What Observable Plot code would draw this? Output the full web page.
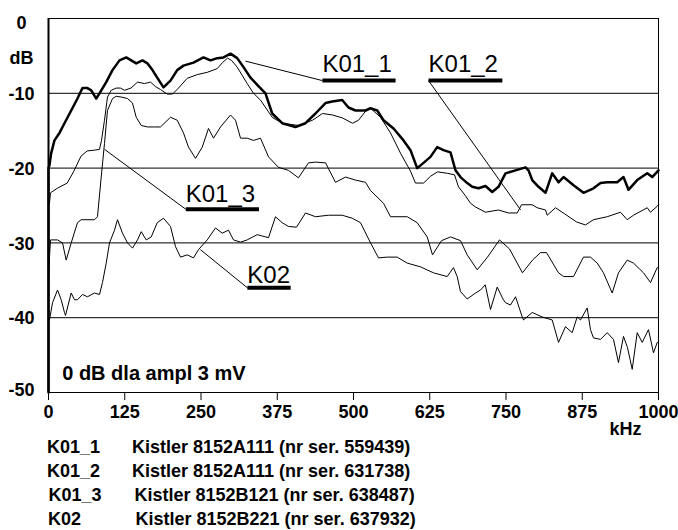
<!DOCTYPE html>
<html><head><meta charset="utf-8">
<script src="https://cdn.jsdelivr.net/npm/d3@7"></script>
<script src="https://cdn.jsdelivr.net/npm/@observablehq/plot@0.6"></script>
<style>
body{margin:0;background:#fff;}
#wrap{position:relative;width:678px;height:530px;overflow:hidden;font-family:"Liberation Sans",Arial,sans-serif;background:#fff;}
.leg{position:absolute;font-weight:bold;font-size:18px;line-height:24px;white-space:nowrap;color:#000;}
</style></head><body><div id="wrap"></div><script>
// ---- data (frequency in kHz, level in dB) ----
const K01_1 = [[0,-50],[0,-20],[1.6,-19.6],[4.4,-18.0],[9.8,-16.3],[18,-15.3],[26.2,-14],[37.2,-12.3],[47.5,-10.7],[55.7,-9.3],[63.9,-9.3],[70,-9.6],[78.2,-10.7],[83.6,-10],[94.6,-8.5],[104.9,-6.9],[116.4,-5.6],[127.4,-5.2],[135.6,-5.6],[143.8,-6],[154.1,-5.6],[162.3,-6],[170.5,-6.9],[178.2,-7.9],[188.5,-9.2],[200,-8.3],[211,-6.9],[221.3,-6.3],[237.7,-5.9],[254.1,-5.2],[265.6,-5.6],[276.6,-5.3],[286.9,-5.2],[298.4,-4.7],[309.3,-5.3],[319.7,-6.5],[331.1,-7.9],[342.6,-8.9],[355.7,-10],[366.7,-12.7],[383.1,-14],[404.9,-14.5],[421.3,-14],[437.7,-12.7],[454.1,-11.3],[465.1,-11.1],[481.5,-10.9],[491.8,-11.9],[503.3,-12.3],[519.7,-12.3],[527.9,-12],[538.9,-12.3],[549.2,-13.6],[565.6,-14.7],[582,-16.3],[593.4,-17.6],[604.4,-20],[614.8,-19.3],[626.2,-18.5],[637.2,-17.2],[647.5,-17.6],[659,-17.9],[667.2,-20.3],[675.4,-21.2],[686.4,-22],[694.6,-22.5],[704.9,-22.7],[716.4,-22.4],[727.4,-23.2],[737.7,-22.5],[749.2,-20.7],[765.6,-20.3],[782,-19.9],[786.9,-20.3],[793,-21.6],[803.3,-22.5],[814.8,-23.3],[825.7,-20.7],[836.1,-21.9],[844.3,-21.2],[850.3,-21.6],[860.7,-22.3],[877,-23.3],[893.4,-22.7],[904.9,-22],[915.9,-21.9],[932.3,-21.9],[942.6,-21.2],[950.8,-22.9],[965.1,-21.6],[981.5,-20.7],[989.7,-21.2],[1000,-20.3]];
const K01_2 = [[0,-25],[1.6,-24.7],[3.3,-23.3],[14.3,-22.7],[30.7,-22],[41,-20.5],[53.3,-18.4],[63.4,-17.7],[75.4,-17.6],[83.6,-17.5],[86.9,-16.3],[91.8,-13.6],[96.7,-10.5],[102.8,-9.6],[111,-9.3],[118,-9.3],[124.6,-9.6],[135.2,-9.3],[145.9,-8.5],[157.4,-8.7],[167.2,-8.5],[175.4,-9.1],[183.6,-9.5],[194.6,-10.1],[203.3,-10.1],[213.1,-9.3],[227.4,-8],[243.8,-7.5],[260.2,-7.2],[276.6,-6.7],[285.2,-5.9],[293.4,-5.3],[300,-5.6],[309.3,-6.5],[325.7,-8.7],[336.1,-10],[347.5,-10.9],[366.7,-13.2],[383.1,-14],[409.8,-14.3],[432.8,-13.6],[449.2,-12.7],[465.6,-12.9],[482,-13.3],[498.4,-14],[508.2,-13.6],[519.7,-12.4],[527.9,-12],[544.3,-13.2],[560.7,-15.3],[577,-18],[593.4,-20.4],[601.6,-22],[614.8,-22],[626.2,-21.1],[637.7,-20.5],[654.1,-20.7],[665.6,-20.9],[672.1,-22.5],[683.6,-23.7],[691.8,-24.7],[700,-25.2],[716.4,-25.9],[737.7,-25.6],[754.1,-26],[768.4,-26],[775.4,-24.9],[793,-24.9],[801.1,-25.3],[814.8,-25.6],[817.5,-26.3],[831.1,-25.3],[845.9,-26.1],[865.6,-27.2],[880.3,-27.6],[893.4,-26.9],[915.9,-26.5],[937.7,-25.9],[948.7,-26.9],[959,-26.3],[981.5,-25.3],[986.9,-25.9],[997.9,-25.1],[1000,-24.9]];
const K01_3 = [[0,-35],[1.6,-31.9],[3.3,-29.6],[14.8,-29.6],[23,-30],[29,-32.3],[37.2,-30],[47.5,-27.3],[53.6,-26.9],[75.4,-26.9],[80.3,-26.5],[86.4,-21.2],[91.8,-16.7],[96.7,-12.3],[104.9,-10.7],[111,-10.4],[119.2,-10.5],[129.5,-10.7],[137.7,-11.3],[143.8,-13.2],[152,-14.3],[162.3,-14.5],[173.8,-14.5],[183.6,-14.5],[200,-13.2],[211,-13.6],[221.3,-15.3],[229.5,-17.2],[241,-18.7],[252,-17.2],[262.3,-14.7],[270.5,-16],[282,-14.5],[298.4,-12.9],[306.6,-13.6],[314.8,-16],[325.7,-16],[336.1,-16.3],[347.5,-16],[360.7,-18.5],[377,-19.9],[393.4,-20.3],[409.8,-21.3],[426.2,-19.3],[437.7,-19.2],[454.1,-19.3],[470.5,-21.9],[486.9,-21.2],[503.3,-21.6],[519.7,-21.9],[527.9,-23],[549.2,-24.7],[560.7,-26.5],[588,-26.5],[604.4,-27.3],[620.8,-29.2],[629.5,-31.6],[644.3,-29.7],[659,-29.2],[675.4,-29.7],[686.4,-31.6],[702.8,-33.6],[719.7,-31.9],[739.3,-29.6],[755.7,-30.8],[777,-34],[793.4,-32.3],[806.6,-31.3],[816.4,-31.3],[836.1,-34],[844.3,-34.5],[860.7,-34.5],[877,-31.9],[888.5,-31.9],[899.5,-32.7],[909.8,-34],[924.1,-36.7],[934.4,-34],[948.7,-32.3],[959,-32.7],[975.4,-34],[986.9,-35.3],[997.9,-33.3],[1000,-33.3]];
const K02 = [[0,-40],[1.6,-40.3],[6.6,-38],[14.8,-36.3],[20.8,-37.6],[26.2,-39.3],[27.9,-39.7],[37.2,-36.7],[42.6,-37.6],[47.5,-37.6],[55.7,-36.9],[63.9,-37.2],[75.4,-36.7],[83.6,-36.9],[88.5,-35.3],[94.6,-32.7],[100,-30],[108.2,-28.3],[113.1,-26.9],[121.3,-28.7],[129.5,-30],[137.7,-30.7],[145.9,-29.6],[152,-28.5],[160.2,-29.6],[168.4,-29.2],[178.2,-27.3],[188.5,-26.7],[200,-27.8],[208.2,-30.5],[216.4,-31.9],[227.4,-31.6],[237.7,-32],[245.9,-30.9],[260.2,-29.6],[273.8,-28],[284.8,-28.7],[295.1,-28.3],[303.3,-29.6],[314.8,-29.9],[325.7,-29.6],[342.1,-28.9],[360.7,-29.3],[372.1,-26.5],[383.1,-27.3],[393.4,-27.8],[406.6,-27.9],[421.3,-26],[437.7,-26.5],[459,-26.3],[481.5,-26.3],[497.9,-26.7],[511.5,-27.3],[527.9,-30],[541,-32],[555.2,-31.9],[571.6,-31.9],[588,-32.7],[609.8,-33.2],[631.1,-34],[653.6,-34.5],[663.9,-33.3],[670,-34.5],[675.4,-36.5],[686.4,-37.5],[700,-36.7],[708.2,-36.3],[716,-35.6],[724.6,-38.9],[735.6,-35.9],[745,-37.5],[749.2,-38],[757.4,-38.3],[765.6,-37.2],[776.6,-39.9],[778.7,-40.3],[793,-39.3],[809.3,-39.9],[825.7,-40.3],[836.1,-43.3],[847.5,-41.2],[858.5,-42],[866.7,-39.9],[872.1,-40.3],[883.1,-38.7],[888.5,-41.6],[893.4,-42.7],[904.9,-42.9],[915.9,-42],[926.2,-42.9],[934.4,-46],[942.6,-42.5],[949.2,-44],[956.9,-46.9],[965.1,-42],[973.3,-43.3],[983.6,-41.6],[991.8,-44.7],[997.9,-43.3],[1000,-43.3]];

const xTicks = [0,125,250,375,500,625,750,875,1000];
const gridDb = [0,-10,-20,-30,-40];
const yLabelValues = [0,-5,-10,-20,-30,-40,-50];
const yLabelTexts = ["0","dB","-10","-20","-30","-40","-50"];
const xUnit = "kHz";

const seriesNames = ["K01_1","K01_2","K01_3","K02"];
const labelX = [449,623,225,326];
const labelY = [-7.2,-7.2,-24.5,-35.3];
const underlineY = [-8.3,-8.3,-25.5,-36];
const underlineEnd = [569,744,345,397];
const targetX = [323,774,92,249];
const targetY = [-5.7,-25.6,-17.5,-30.9];

const noteText = "0 dB dla ampl 3 mV";
const noteX = 22.5, noteY = -48.3;

const legendKeys = ["K01_1","K01_2","K01_3","K02"];
const legendDesc = ["Kistler 8152A111 (nr ser. 559439)","Kistler 8152A111 (nr ser. 631738)","Kistler 8152B121 (nr ser. 638487)","Kistler 8152B221 (nr ser. 637932)"];

// ---- rendering ----
const font = '"Liberation Sans", Arial, sans-serif';
const toRows = (arr) => arr.map(([x,y]) => ({x,y}));
const annot = seriesNames.map((s,i)=>({label:s, lx:labelX[i], ly:labelY[i], uy:underlineY[i], ux2:underlineEnd[i], tx:targetX[i], ty:targetY[i]}));
const yShift = {"0":5,"dB":2,"-50":-2};
const yLab = yLabelValues.map((v,i)=>({v, t:yLabelTexts[i]}));

const H = 436;
const chart = Plot.plot({
  width: 678, height: H,
  marginLeft: 48, marginRight: 20, marginTop: 18, marginBottom: H - 392,
  x: {domain: [0,1000], axis: null},
  y: {domain: [-50,0], axis: null},
  style: {fontFamily: font, background: "white", color: "black", overflow: "visible"},
  marks: [
    Plot.ruleY(gridDb, {stroke: "black", strokeWidth: 1}),
    Plot.ruleY([-50], {stroke: "black", strokeWidth: 1}),
    Plot.ruleX([1000], {stroke: "black", strokeWidth: 1}),
    Plot.ruleX([0], {stroke: "black", strokeWidth: 2}),
    Plot.axisX({ticks: xTicks, tickSize: 8, tickPadding: 5, tickFormat: d => String(d), fontSize: 18, fontWeight: "bold", label: null}),
    Plot.line(toRows(K02), {x: "x", y: "y", stroke: "black", strokeWidth: 1}),
    Plot.line(toRows(K01_3), {x: "x", y: "y", stroke: "black", strokeWidth: 1}),
    Plot.line(toRows(K01_2), {x: "x", y: "y", stroke: "black", strokeWidth: 1}),
    Plot.line(toRows(K01_1), {x: "x", y: "y", stroke: "black", strokeWidth: 2.5}),
    Plot.link(annot, {x1: "lx", y1: "uy", x2: "tx", y2: "ty", stroke: "black", strokeWidth: 1}),
    Plot.link(annot, {x1: "lx", y1: "uy", x2: "ux2", y2: "uy", stroke: "black", strokeWidth: 4}),
    Plot.text(annot, {x: "lx", y: "ly", text: "label", textAnchor: "start", lineAnchor: "bottom", fontSize: 24, fill: "black"}),
    ...yLab.map(d => Plot.text([d], {x: 0, y: "v", text: "t", dx: -27, dy: yShift[d.t] ?? 1, textAnchor: "middle", lineAnchor: "middle", fontSize: 18, fontWeight: "bold", fill: "black"})),
    Plot.text([noteText], {x: noteX, y: noteY, text: d => d, textAnchor: "start", lineAnchor: "bottom", fontSize: 20, fontWeight: "bold", fill: "black"}),
    Plot.text([xUnit], {x: 1000, y: -50, text: d => d, dx: -33, dy: 37, textAnchor: "middle", lineAnchor: "middle", fontSize: 18, fontWeight: "bold", fill: "black"})
  ]
});
const wrap = document.getElementById("wrap");
chart.style.position = "absolute"; chart.style.left = "0"; chart.style.top = "0";
wrap.appendChild(chart);

const keyLeft = [47,47,48.5,48];
const descLeft = [132,132,134.5,135.5];
legendKeys.forEach((k,i)=>{
  const top = 435 + i*24;
  const a = document.createElement("div"); a.className = "leg"; a.textContent = k;
  a.style.left = keyLeft[i] + "px"; a.style.top = top + "px"; wrap.appendChild(a);
  const b = document.createElement("div"); b.className = "leg"; b.textContent = legendDesc[i];
  b.style.left = descLeft[i] + "px"; b.style.top = top + "px"; wrap.appendChild(b);
});
</script></body></html>
